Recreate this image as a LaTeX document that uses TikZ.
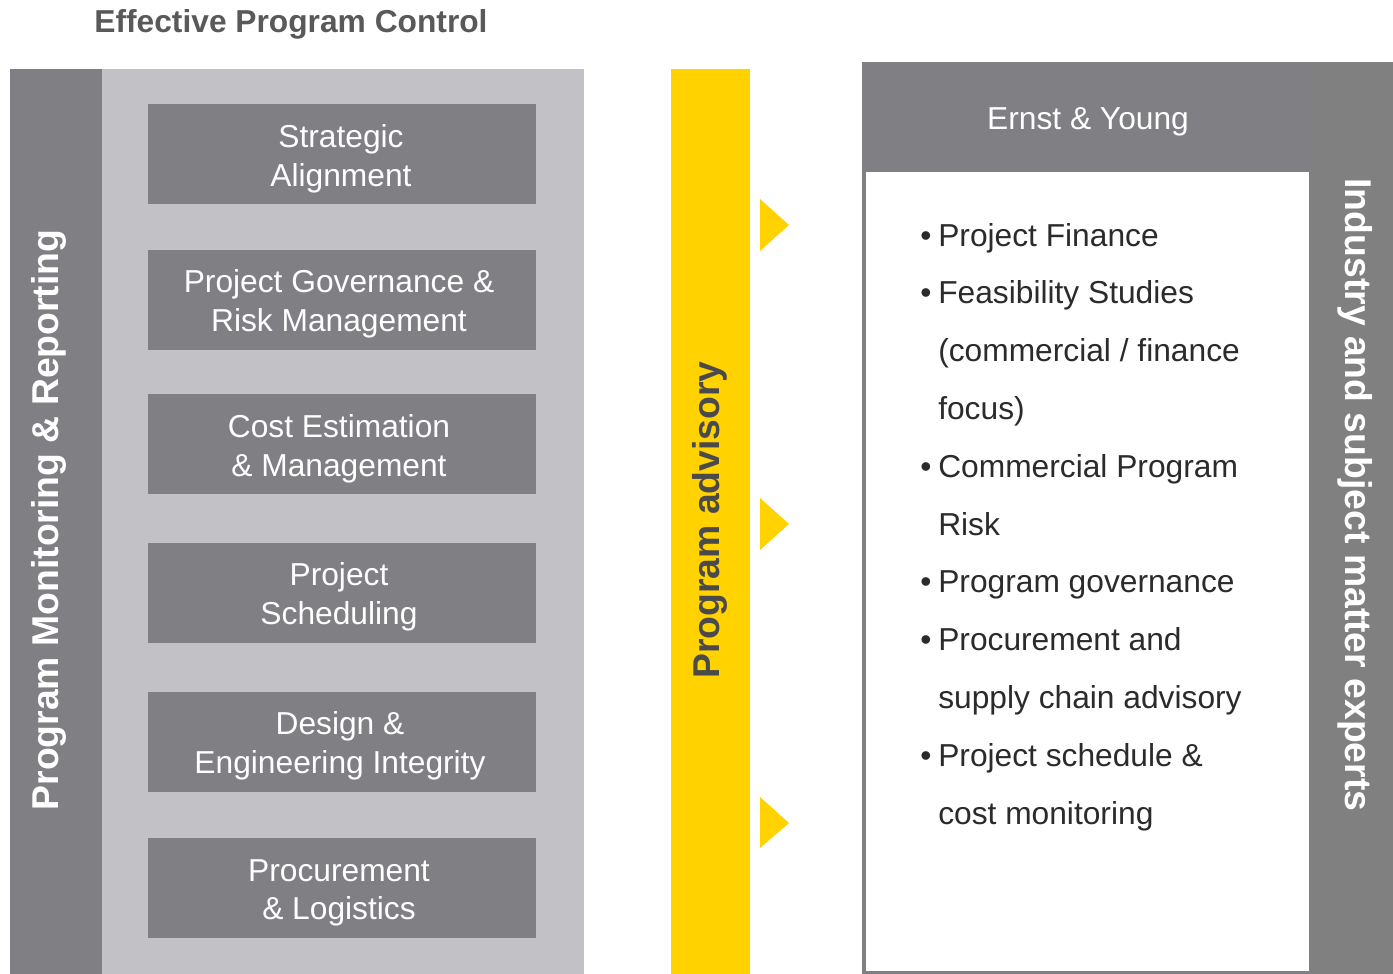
\documentclass[tikz,border=0pt]{standalone}
\usepackage{fontspec}
\setmainfont{Liberation Sans}
\usetikzlibrary{positioning}

\definecolor{boxgray}{RGB}{128,127,132}
\definecolor{stripgray}{RGB}{128,128,128}
\definecolor{panelgray}{RGB}{194,193,198}
\definecolor{eyyellow}{RGB}{255,210,0}
\definecolor{titlegray}{RGB}{89,89,89}
\definecolor{listtext}{RGB}{43,43,43}
\definecolor{advtext}{RGB}{74,74,74}

\tikzset{
  ctrlbox/.style={fill=boxgray, minimum width=291pt, minimum height=75pt, inner sep=0pt},
  boxtext/.style={text=white, inner sep=0pt, align=center, font=\fontsize{23.8}{29}\selectfont},
  listline/.style={anchor=base west, inner sep=0pt, text=listtext,
    font=\fontsize{23.8}{29}\selectfont},
  sidetext/.style={anchor=base, inner sep=0pt, font=\bfseries\fontsize{28}{34}\selectfont}
}

\begin{document}
\begin{tikzpicture}[x=0.75pt,y=0.75pt,yscale=-1,xscale=1]
\useasboundingbox (0,0) rectangle (1393,974);

%Shapes: left panel
\fill [boxgray] (10,69) rectangle (102,974);
\fill [panelgray] (102,69) rectangle (584,974);
%Shapes: advisory bar
\fill [eyyellow] (671,69) rectangle (750,974);
\fill [eyyellow] (760,199) -- (789,225) -- (760,251) -- cycle;
\fill [eyyellow] (760,498) -- (789,524) -- (760,550) -- cycle;
\fill [eyyellow] (760,797) -- (789,823) -- (760,848) -- cycle;
%Shapes: right panel
\fill [boxgray] (862,62) rectangle (1313,974);
\fill [stripgray] (1313,62) rectangle (1393,974);
\fill [white] (866,172) rectangle (1309,971);

% Text Node
\node (title) [anchor=base, inner sep=0pt, text=titlegray, font=\bfseries\fontsize{23.8}{29}\selectfont] at (291,33) {Effective Program Control};
% Text Node
\node (monitor) [sidetext, text=white, rotate=90] at (58,520) {Program Monitoring \& Reporting};

% Control boxes
\node (strategic) [ctrlbox] at (342,154) {};
\node (governance) [ctrlbox] at (342,299.5) {};
\node (cost) [ctrlbox] at (342,444) {};
\node (schedule) [ctrlbox] at (342,592.5) {};
\node (design) [ctrlbox] at (342,741.5) {};
\node (procure) [ctrlbox] at (342,888) {};
% Text Node
\node (strategic text) [boxtext] at (341,158.5) {Strategic\\Alignment};
\node (governance text) [boxtext] at (339,304) {Project Governance \&\\Risk Management};
\node (cost text) [boxtext] at (339,448.5) {Cost Estimation\\\& Management};
\node (schedule text) [boxtext] at (339,597) {Project\\Scheduling};
\node (design text) [boxtext] at (340,746) {Design \&\\Engineering Integrity};
\node (procure text) [boxtext] at (339,893) {Procurement\\\& Logistics};

% Text Node
\node (advisory) [sidetext, text=advtext, rotate=90] at (719,520) {Program advisory};
% Text Node
\node (ey) [anchor=base, inner sep=0pt, text=white, font=\fontsize{23.8}{29}\selectfont] at (1088,129) {Ernst \& Young};
% Text Node
\node (experts) [sidetext, text=white, rotate=-90] at (1345,495) {Industry and subject matter experts};

% Service list
\node (finance) [listline] at (938,246) {\llap{\textbullet\hspace{5pt}}Project Finance};
\node (feasible) [listline] at (938,303.8) {\llap{\textbullet\hspace{5pt}}Feasibility Studies};
\node (feasible2) [listline] at (938,361.6) {(commercial / finance};
\node (feasible3) [listline] at (938,419.4) {focus)};
\node (risk) [listline] at (938,477.2) {\llap{\textbullet\hspace{5pt}}Commercial Program};
\node (risk2) [listline] at (938,535) {Risk};
\node (govern) [listline] at (938,592.8) {\llap{\textbullet\hspace{5pt}}Program governance};
\node (supply) [listline] at (938,650.6) {\llap{\textbullet\hspace{5pt}}Procurement and};
\node (supply2) [listline] at (938,708.4) {supply chain advisory};
\node (monitoring) [listline] at (938,766.2) {\llap{\textbullet\hspace{5pt}}Project schedule \&};
\node (monitoring2) [listline] at (938,824) {cost monitoring};

\end{tikzpicture}
\end{document}
